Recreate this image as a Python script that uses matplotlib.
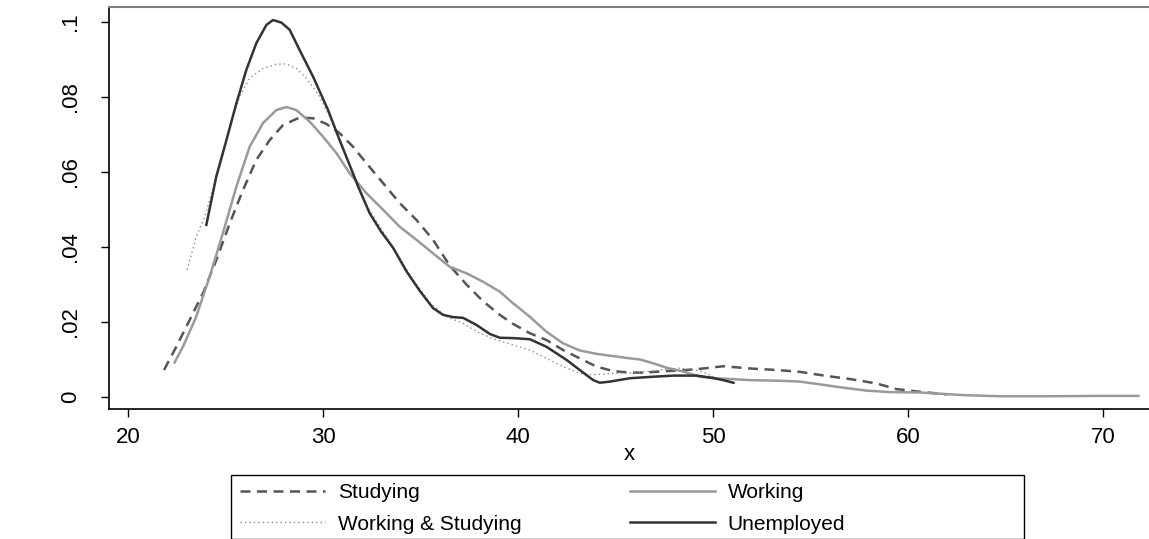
import matplotlib
matplotlib.use("Agg")
import matplotlib.pyplot as plt
from matplotlib.patches import Rectangle

plt.rcParams["font.family"] = ["Liberation Sans", "DejaVu Sans"]

# -- Data --------------------------------------------------------------------

studying_x = [21.85, 22.48, 23.16, 23.85, 24.53, 25.22, 25.90, 26.58, 27.27, 27.95,
              28.80, 29.49, 30.17, 30.86, 31.54, 32.23, 33.08, 33.93, 34.79, 35.64,
              36.50, 37.35, 38.21, 39.06, 39.74, 40.60, 41.45, 42.31, 43.16, 44.02,
              44.87, 45.73, 46.41, 47.61, 48.63, 49.49, 50.52, 51.89, 53.25, 54.45,
              55.82, 57.00, 58.38, 59.40, 60.77, 61.97]
studying_y = [0.0072, 0.0134, 0.0205, 0.0277, 0.0365, 0.0463, 0.0552, 0.0632, 0.0685, 0.0725,
              0.0745, 0.0743, 0.0728, 0.0703, 0.0667, 0.0623, 0.0570, 0.0517, 0.0472, 0.0419,
              0.0350, 0.0300, 0.0255, 0.0219, 0.0195, 0.0170, 0.0152, 0.0125, 0.0103, 0.0081,
              0.0069, 0.0065, 0.0065, 0.0069, 0.0072, 0.0076, 0.0082, 0.0076, 0.0072, 0.0067,
              0.0056, 0.0048, 0.0036, 0.0021, 0.0013, 0.0007]

working_x = [22.39, 22.82, 23.50, 24.19, 24.87, 25.56, 26.24, 26.92, 27.61, 28.12,
             28.63, 29.32, 30.00, 30.69, 31.37, 32.23, 33.08, 33.93, 34.79, 35.64,
             36.50, 37.35, 38.21, 39.06, 39.74, 40.60, 41.45, 42.31, 43.16, 44.02,
             44.87, 45.73, 46.24, 46.92, 47.61, 48.46, 49.32, 50.17, 51.89, 53.59,
             54.45, 55.30, 56.49, 57.87, 59.06, 60.60, 62.82, 64.70, 67.10, 70.15,
             71.80]
working_y = [0.0092, 0.0134, 0.0214, 0.0321, 0.0437, 0.0561, 0.0667, 0.0730, 0.0765, 0.0773,
             0.0765, 0.0734, 0.0694, 0.0650, 0.0596, 0.0543, 0.0499, 0.0454, 0.0419, 0.0383,
             0.0347, 0.0330, 0.0307, 0.0281, 0.0250, 0.0214, 0.0174, 0.0143, 0.0124, 0.0115,
             0.0109, 0.0103, 0.0100, 0.0090, 0.0078, 0.0068, 0.0054, 0.0050, 0.0045, 0.0043,
             0.0041, 0.0035, 0.0026, 0.0017, 0.0013, 0.0012, 0.0005, 0.0002, 0.0002, 0.0003,
             0.0003]

workstudy_x = [23.03, 23.50, 23.93, 24.19, 24.70, 25.22, 25.73, 26.24, 26.92, 27.61,
               28.12, 28.63, 29.15, 29.83, 30.34, 30.86, 31.50, 32.30, 33.40, 34.62,
               35.50, 36.30, 37.18, 38.04, 38.89, 39.74, 40.60, 41.45, 42.31, 43.16,
               43.85, 44.87, 46.24, 47.27, 48.29, 49.32, 50.17, 51.28]
workstudy_y = [0.0339, 0.0427, 0.0480, 0.0525, 0.0614, 0.0721, 0.0801, 0.0850, 0.0876, 0.0887,
               0.0888, 0.0876, 0.0850, 0.0801, 0.0747, 0.0685, 0.0600, 0.0505, 0.0414, 0.0312,
               0.0250, 0.0215, 0.0196, 0.0170, 0.0152, 0.0139, 0.0125, 0.0103, 0.0081, 0.0063,
               0.0059, 0.0063, 0.0065, 0.0072, 0.0077, 0.0070, 0.0050, 0.0035]

unemp_x = [24.02, 24.53, 25.05, 25.56, 26.07, 26.58, 27.10, 27.44, 27.87, 28.29,
           28.80, 29.49, 30.26, 30.85, 31.40, 31.80, 32.39, 32.99, 33.59, 34.28,
           34.96, 35.64, 36.15, 36.67, 37.18, 37.87, 38.55, 39.06, 39.74, 40.60,
           41.45, 42.48, 43.16, 43.85, 44.19, 44.70, 45.73, 46.92, 47.95, 49.15,
           49.83, 50.52, 51.03]
unemp_y = [0.0459, 0.0588, 0.0685, 0.0783, 0.0872, 0.0943, 0.0992, 0.1005, 0.0998, 0.0979,
           0.0925, 0.0854, 0.0765, 0.0685, 0.0614, 0.0561, 0.0490, 0.0440, 0.0398, 0.0335,
           0.0283, 0.0237, 0.0219, 0.0213, 0.0211, 0.0192, 0.0168, 0.0158, 0.0157, 0.0154,
           0.0134, 0.0099, 0.0072, 0.0045, 0.0038, 0.0041, 0.0050, 0.0054, 0.0057, 0.0057,
           0.0052, 0.0045, 0.0038]

x_ticks = [20, 30, 40, 50, 60, 70]
y_ticks = [0, 0.02, 0.04, 0.06, 0.08, 0.1]
y_ticklabels = ["0", ".02", ".04", ".06", ".08", ".1"]

# -- Figure --------------------------------------------------------------------

W, H = 1149, 539
FS = 16
LFS = 15
fig = plt.figure(figsize=(W / 100, H / 100), dpi=100)
ax = fig.add_axes([109 / W, (H - 409) / H, (W - 109) / W, (409 - 6.5) / H])

ax.plot(studying_x, studying_y, color="#555555", lw=1.8, ls=(0, (4, 2.6)), label="Studying")
ax.plot(working_x, working_y, color="#9a9a9a", lw=1.8, label="Working")
ax.plot(workstudy_x, workstudy_y, color="#8c8c8c", lw=1.0, ls=(0, (1, 2.2)),
        label="Working & Studying")
ax.plot(unemp_x, unemp_y, color="#333333", lw=1.8, label="Unemployed")

ax.set_xlim(19.03, 72.34)
ax.set_ylim(-0.0032, 0.1041)
ax.set_xticks(x_ticks)
ax.set_xticklabels([str(v) for v in x_ticks])
ax.set_yticks(y_ticks)
ax.set_yticklabels(y_ticklabels, rotation=90, va="center")
ax.tick_params(axis="both", direction="out", length=6, width=1, labelsize=FS, colors="black")
ax.tick_params(axis="y", pad=14)
ax.tick_params(axis="x", pad=7)
ax.set_xlabel("x", fontsize=FS, labelpad=-3)

for s in ["left", "bottom"]:
    ax.spines[s].set_linewidth(1.2)
ax.spines["top"].set_color("#808080")
ax.spines["top"].set_linewidth(1.5)
ax.spines["right"].set_visible(False)

# legend: order as in the reference (two columns)
h, l = ax.get_legend_handles_labels()
order = [0, 2, 1, 3]
leg = fig.legend([h[i] for i in order], [l[i] for i in order], ncol=2,
                 loc="upper left", bbox_to_anchor=(240 / W, 1 - 483 / H),
                 frameon=False, fontsize=LFS, handlelength=4.1, handletextpad=0.6,
                 columnspacing=5.2, labelspacing=0.6, borderpad=0, borderaxespad=0)
fig.patches.append(Rectangle((231 / W, 0), (1024 - 231) / W, (H - 475) / H,
                             transform=fig.transFigure, fill=False,
                             edgecolor="black", lw=1.0))

fig.savefig("out.png", dpi=100)
